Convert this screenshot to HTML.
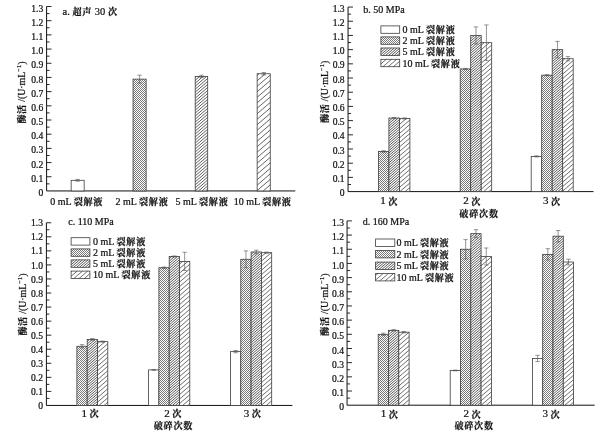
<!DOCTYPE html>
<html lang="zh"><head><meta charset="utf-8"><title>酶活</title>
<style>
html,body{margin:0;padding:0;background:#fff;}
svg{display:block;font-family:"Liberation Serif", "Noto Serif CJK SC", serif;fill:#111;will-change:transform;}
text{stroke:#111;stroke-width:0.22px;}
</style></head><body>
<svg width="609" height="438" viewBox="0 0 609 438">
<defs><pattern id="ck" width="2" height="2" patternUnits="userSpaceOnUse"><rect width="2" height="2" fill="#fff"/><rect width="1" height="1" fill="#787878" shape-rendering="crispEdges"/><rect x="1" y="1" width="1" height="1" fill="#787878" shape-rendering="crispEdges"/></pattern></defs>
<rect width="609" height="438" fill="#fff"/>

<path d="M46.6 6.5V190.95H295.3" fill="none" stroke="#111" stroke-width="1"/>
<path d="M46.6 183.86h3M46.6 176.76h4.9M46.6 169.67h3M46.6 162.57h4.9M46.6 155.48h3M46.6 148.38h4.9M46.6 141.29h3M46.6 134.2h4.9M46.6 127.1h3M46.6 120.01h4.9M46.6 112.91h3M46.6 105.82h4.9M46.6 98.73h3M46.6 91.63h4.9M46.6 84.54h3M46.6 77.44h4.9M46.6 70.35h3M46.6 63.25h4.9M46.6 56.16h3M46.6 49.07h4.9M46.6 41.97h3M46.6 34.88h4.9M46.6 27.78h3M46.6 20.69h4.9M46.6 13.59h3M46.6 6.5h4.9" fill="none" stroke="#111" stroke-width="0.9"/>
<text x="43.2" y="196.06" text-anchor="end" font-size="9.6" stroke-width="0.1">0</text>
<text x="43.2" y="181.87" text-anchor="end" font-size="9.6" stroke-width="0.1">0.1</text>
<text x="43.2" y="167.68" text-anchor="end" font-size="9.6" stroke-width="0.1">0.2</text>
<text x="43.2" y="153.49" text-anchor="end" font-size="9.6" stroke-width="0.1">0.3</text>
<text x="43.2" y="139.31" text-anchor="end" font-size="9.6" stroke-width="0.1">0.4</text>
<text x="43.2" y="125.12" text-anchor="end" font-size="9.6" stroke-width="0.1">0.5</text>
<text x="43.2" y="110.93" text-anchor="end" font-size="9.6" stroke-width="0.1">0.6</text>
<text x="43.2" y="96.74" text-anchor="end" font-size="9.6" stroke-width="0.1">0.7</text>
<text x="43.2" y="82.55" text-anchor="end" font-size="9.6" stroke-width="0.1">0.8</text>
<text x="43.2" y="68.36" text-anchor="end" font-size="9.6" stroke-width="0.1">0.9</text>
<text x="43.2" y="54.18" text-anchor="end" font-size="9.6" stroke-width="0.1">1.0</text>
<text x="43.2" y="39.99" text-anchor="end" font-size="9.6" stroke-width="0.1">1.1</text>
<text x="43.2" y="25.8" text-anchor="end" font-size="9.6" stroke-width="0.1">1.2</text>
<text x="43.2" y="11.61" text-anchor="end" font-size="9.6" stroke-width="0.1">1.3</text>
<text transform="translate(24.9 92.5) rotate(-90)" text-anchor="middle" font-size="9.9"><tspan font-weight="700" font-size="9" letter-spacing="0.6">酶活</tspan> /(U·mL<tspan dy="-3.5" font-size="6.5">−1</tspan><tspan dy="3.5">)</tspan></text>
<text x="62.6" y="14.9" font-size="10.5">a. <tspan font-weight="700" font-size="9.1" letter-spacing="0.75">超声</tspan> 30 <tspan font-weight="700" font-size="9.1" letter-spacing="0.75">次</tspan></text>
<rect x="71.15" y="180.31" width="13" height="10.64" fill="#fff" stroke="none"/>
<rect x="71.15" y="180.31" width="13" height="10.64" fill="none" stroke="#3c3c3c" stroke-width="0.8"/>
<path d="M77.65 179.46V181.16M75.45 179.46h4.4M75.45 181.16h4.4" fill="none" stroke="#555" stroke-width="0.62"/>
<text x="76.7" y="204.5" text-anchor="middle" font-size="10">0 mL <tspan font-weight="700" font-size="9.1" letter-spacing="0.75">裂解液</tspan></text>
<rect x="133.05" y="79.14" width="13.1" height="111.81" fill="#fff" stroke="none"/>
<rect x="133.05" y="79.14" width="13.1" height="111.81" fill="url(#ck)" stroke="none"/>
<rect x="133.05" y="79.14" width="13.1" height="111.81" fill="none" stroke="#3c3c3c" stroke-width="0.8"/>
<path d="M139.6 75.17V83.12M137.4 75.17h4.4M137.4 83.12h4.4" fill="none" stroke="#555" stroke-width="0.62"/>
<text x="142" y="204.5" text-anchor="middle" font-size="10">2 mL <tspan font-weight="700" font-size="9.1" letter-spacing="0.75">裂解液</tspan></text>
<rect x="195.2" y="76.45" width="12.5" height="114.5" fill="#fff" stroke="none"/>
<path d="M195.2 77.23L196.1 76.45M195.2 80.22L199.58 76.45M195.2 83.2L203.05 76.45M195.2 86.19L206.53 76.45M195.2 89.18L207.7 78.43M195.2 92.17L207.7 81.42M195.2 95.16L207.7 84.41M195.2 98.15L207.7 87.4M195.2 101.14L207.7 90.39M195.2 104.13L207.7 93.38M195.2 107.12L207.7 96.37M195.2 110.11L207.7 99.36M195.2 113.09L207.7 102.34M195.2 116.08L207.7 105.33M195.2 119.07L207.7 108.32M195.2 122.06L207.7 111.31M195.2 125.05L207.7 114.3M195.2 128.04L207.7 117.29M195.2 131.03L207.7 120.28M195.2 134.02L207.7 123.27M195.2 137.01L207.7 126.26M195.2 140L207.7 129.25M195.2 142.98L207.7 132.23M195.2 145.97L207.7 135.22M195.2 148.96L207.7 138.21M195.2 151.95L207.7 141.2M195.2 154.94L207.7 144.19M195.2 157.93L207.7 147.18M195.2 160.92L207.7 150.17M195.2 163.91L207.7 153.16M195.2 166.9L207.7 156.15M195.2 169.89L207.7 159.14M195.2 172.87L207.7 162.12M195.2 175.86L207.7 165.11M195.2 178.85L207.7 168.1M195.2 181.84L207.7 171.09M195.2 184.83L207.7 174.08M195.2 187.82L207.7 177.07M195.2 190.81L207.7 180.06M198.51 190.95L207.7 183.05M201.99 190.95L207.7 186.04M205.46 190.95L207.7 189.03" fill="none" stroke="#4c4c4c" stroke-width="0.9"/>
<rect x="195.2" y="76.45" width="12.5" height="114.5" fill="none" stroke="#3c3c3c" stroke-width="0.8"/>
<path d="M201.45 75.31V77.58M199.25 75.31h4.4M199.25 77.58h4.4" fill="none" stroke="#555" stroke-width="0.62"/>
<text x="202" y="204.5" text-anchor="middle" font-size="10">5 mL <tspan font-weight="700" font-size="9.1" letter-spacing="0.75">裂解液</tspan></text>
<rect x="257.15" y="73.75" width="13.1" height="117.2" fill="#fff" stroke="none"/>
<path d="M257.15 75.31L258.96 73.75M257.15 80.8L265.34 73.75M257.15 86.29L270.25 75.03M257.15 91.78L270.25 80.52M257.15 97.27L270.25 86.01M257.15 102.76L270.25 91.5M257.15 108.25L270.25 96.99M257.15 113.74L270.25 102.47M257.15 119.23L270.25 107.97M257.15 124.72L270.25 113.46M257.15 130.21L270.25 118.95M257.15 135.7L270.25 124.44M257.15 141.19L270.25 129.93M257.15 146.68L270.25 135.42M257.15 152.17L270.25 140.91M257.15 157.66L270.25 146.4M257.15 163.15L270.25 151.89M257.15 168.64L270.25 157.38M257.15 174.13L270.25 162.87M257.15 179.62L270.25 168.36M257.15 185.11L270.25 173.84M257.15 190.6L270.25 179.34M263.13 190.95L270.25 184.83M269.51 190.95L270.25 190.32" fill="none" stroke="#555" stroke-width="0.9"/>
<rect x="257.15" y="73.75" width="13.1" height="117.2" fill="none" stroke="#3c3c3c" stroke-width="0.8"/>
<path d="M263.7 72.48V75.03M261.5 72.48h4.4M261.5 75.03h4.4" fill="none" stroke="#555" stroke-width="0.62"/>
<text x="262.7" y="204.5" text-anchor="middle" font-size="10">10 mL <tspan font-weight="700" font-size="9.1" letter-spacing="0.75">裂解液</tspan></text>
<path d="M348.05 7.05V191.6H593.5" fill="none" stroke="#111" stroke-width="1"/>
<path d="M348.05 184.5h3M348.05 177.4h4.9M348.05 170.31h3M348.05 163.21h4.9M348.05 156.11h3M348.05 149.01h4.9M348.05 141.91h3M348.05 134.82h4.9M348.05 127.72h3M348.05 120.62h4.9M348.05 113.52h3M348.05 106.42h4.9M348.05 99.33h3M348.05 92.23h4.9M348.05 85.13h3M348.05 78.03h4.9M348.05 70.93h3M348.05 63.83h4.9M348.05 56.74h3M348.05 49.64h4.9M348.05 42.54h3M348.05 35.44h4.9M348.05 28.34h3M348.05 21.25h4.9M348.05 14.15h3M348.05 7.05h4.9" fill="none" stroke="#111" stroke-width="0.9"/>
<text x="344.65" y="196.21" text-anchor="end" font-size="9.6" stroke-width="0.1">0</text>
<text x="344.65" y="182.01" text-anchor="end" font-size="9.6" stroke-width="0.1">0.1</text>
<text x="344.65" y="167.82" text-anchor="end" font-size="9.6" stroke-width="0.1">0.2</text>
<text x="344.65" y="153.62" text-anchor="end" font-size="9.6" stroke-width="0.1">0.3</text>
<text x="344.65" y="139.43" text-anchor="end" font-size="9.6" stroke-width="0.1">0.4</text>
<text x="344.65" y="125.23" text-anchor="end" font-size="9.6" stroke-width="0.1">0.5</text>
<text x="344.65" y="111.03" text-anchor="end" font-size="9.6" stroke-width="0.1">0.6</text>
<text x="344.65" y="96.84" text-anchor="end" font-size="9.6" stroke-width="0.1">0.7</text>
<text x="344.65" y="82.64" text-anchor="end" font-size="9.6" stroke-width="0.1">0.8</text>
<text x="344.65" y="68.44" text-anchor="end" font-size="9.6" stroke-width="0.1">0.9</text>
<text x="344.65" y="54.25" text-anchor="end" font-size="9.6" stroke-width="0.1">1.0</text>
<text x="344.65" y="40.05" text-anchor="end" font-size="9.6" stroke-width="0.1">1.1</text>
<text x="344.65" y="25.86" text-anchor="end" font-size="9.6" stroke-width="0.1">1.2</text>
<text x="344.65" y="11.66" text-anchor="end" font-size="9.6" stroke-width="0.1">1.3</text>
<rect x="378.4" y="151.42" width="10.5" height="40.18" fill="#fff" stroke="none"/>
<rect x="378.4" y="151.42" width="10.5" height="40.18" fill="url(#ck)" stroke="none"/>
<rect x="378.4" y="151.42" width="10.5" height="40.18" fill="none" stroke="#3c3c3c" stroke-width="0.8"/>
<rect x="388.9" y="118.06" width="10.5" height="73.54" fill="#fff" stroke="none"/>
<path d="M388.9 118.8L389.75 118.06M388.9 121.25L392.6 118.06M388.9 123.7L395.45 118.06M388.9 126.15L398.3 118.06M388.9 128.6L399.4 119.57M388.9 131.05L399.4 122.02M388.9 133.5L399.4 124.47M388.9 135.95L399.4 126.92M388.9 138.4L399.4 129.37M388.9 140.85L399.4 131.82M388.9 143.3L399.4 134.27M388.9 145.75L399.4 136.72M388.9 148.2L399.4 139.17M388.9 150.65L399.4 141.62M388.9 153.1L399.4 144.07M388.9 155.55L399.4 146.52M388.9 158L399.4 148.97M388.9 160.45L399.4 151.42M388.9 162.9L399.4 153.87M388.9 165.35L399.4 156.32M388.9 167.8L399.4 158.77M388.9 170.25L399.4 161.22M388.9 172.7L399.4 163.67M388.9 175.15L399.4 166.12M388.9 177.6L399.4 168.57M388.9 180.05L399.4 171.02M388.9 182.5L399.4 173.47M388.9 184.95L399.4 175.92M388.9 187.4L399.4 178.37M388.9 189.85L399.4 180.82M389.71 191.6L399.4 183.27M392.56 191.6L399.4 185.72M395.41 191.6L399.4 188.17M398.26 191.6L399.4 190.62" fill="none" stroke="#4c4c4c" stroke-width="0.92"/>
<rect x="388.9" y="118.06" width="10.5" height="73.54" fill="none" stroke="#3c3c3c" stroke-width="0.8"/>
<rect x="399.4" y="118.49" width="10.5" height="73.11" fill="#fff" stroke="none"/>
<path d="M399.4 120.02L401.17 118.49M399.4 124.52L406.41 118.49M399.4 129.02L409.9 119.99M399.4 133.52L409.9 124.49M399.4 138.02L409.9 128.99M399.4 142.52L409.9 133.49M399.4 147.02L409.9 137.99M399.4 151.52L409.9 142.49M399.4 156.02L409.9 146.99M399.4 160.52L409.9 151.49M399.4 165.02L409.9 155.99M399.4 169.52L409.9 160.49M399.4 174.02L409.9 164.99M399.4 178.52L409.9 169.49M399.4 183.02L409.9 173.99M399.4 187.52L409.9 178.49M399.88 191.6L409.9 182.99M405.12 191.6L409.9 187.49" fill="none" stroke="#555" stroke-width="0.85"/>
<rect x="399.4" y="118.49" width="10.5" height="73.11" fill="none" stroke="#3c3c3c" stroke-width="0.8"/>
<path d="M383.65 150.72V152.13M381.45 150.72h4.4M381.45 152.13h4.4" fill="none" stroke="#555" stroke-width="0.62"/>
<path d="M394.15 117.5V118.63M391.95 117.5h4.4M391.95 118.63h4.4" fill="none" stroke="#555" stroke-width="0.62"/>
<path d="M404.65 117.92V119.06M402.45 117.92h4.4M402.45 119.06h4.4" fill="none" stroke="#555" stroke-width="0.62"/>
<rect x="460.2" y="68.95" width="10.5" height="122.65" fill="#fff" stroke="none"/>
<rect x="460.2" y="68.95" width="10.5" height="122.65" fill="url(#ck)" stroke="none"/>
<rect x="460.2" y="68.95" width="10.5" height="122.65" fill="none" stroke="#3c3c3c" stroke-width="0.8"/>
<rect x="470.7" y="35.44" width="10.5" height="156.16" fill="#fff" stroke="none"/>
<path d="M470.7 36.2L471.58 35.44M470.7 38.65L474.43 35.44M470.7 41.1L477.28 35.44M470.7 43.55L480.13 35.44M470.7 46L481.2 36.97M470.7 48.45L481.2 39.42M470.7 50.9L481.2 41.87M470.7 53.35L481.2 44.32M470.7 55.8L481.2 46.77M470.7 58.25L481.2 49.22M470.7 60.7L481.2 51.67M470.7 63.15L481.2 54.12M470.7 65.6L481.2 56.57M470.7 68.05L481.2 59.02M470.7 70.5L481.2 61.47M470.7 72.95L481.2 63.92M470.7 75.4L481.2 66.37M470.7 77.85L481.2 68.82M470.7 80.3L481.2 71.27M470.7 82.75L481.2 73.72M470.7 85.2L481.2 76.17M470.7 87.65L481.2 78.62M470.7 90.1L481.2 81.07M470.7 92.55L481.2 83.52M470.7 95L481.2 85.97M470.7 97.45L481.2 88.42M470.7 99.9L481.2 90.87M470.7 102.35L481.2 93.32M470.7 104.8L481.2 95.77M470.7 107.25L481.2 98.22M470.7 109.7L481.2 100.67M470.7 112.15L481.2 103.12M470.7 114.6L481.2 105.57M470.7 117.05L481.2 108.02M470.7 119.5L481.2 110.47M470.7 121.95L481.2 112.92M470.7 124.4L481.2 115.37M470.7 126.85L481.2 117.82M470.7 129.3L481.2 120.27M470.7 131.75L481.2 122.72M470.7 134.2L481.2 125.17M470.7 136.65L481.2 127.62M470.7 139.1L481.2 130.07M470.7 141.55L481.2 132.52M470.7 144L481.2 134.97M470.7 146.45L481.2 137.42M470.7 148.9L481.2 139.87M470.7 151.35L481.2 142.32M470.7 153.8L481.2 144.77M470.7 156.25L481.2 147.22M470.7 158.7L481.2 149.67M470.7 161.15L481.2 152.12M470.7 163.6L481.2 154.57M470.7 166.05L481.2 157.02M470.7 168.5L481.2 159.47M470.7 170.95L481.2 161.92M470.7 173.4L481.2 164.37M470.7 175.85L481.2 166.82M470.7 178.3L481.2 169.27M470.7 180.75L481.2 171.72M470.7 183.2L481.2 174.17M470.7 185.65L481.2 176.62M470.7 188.1L481.2 179.07M470.7 190.55L481.2 181.52M472.33 191.6L481.2 183.97M475.17 191.6L481.2 186.42M478.02 191.6L481.2 188.87M480.87 191.6L481.2 191.32" fill="none" stroke="#4c4c4c" stroke-width="0.92"/>
<rect x="470.7" y="35.44" width="10.5" height="156.16" fill="none" stroke="#3c3c3c" stroke-width="0.8"/>
<rect x="481.2" y="42.68" width="10.5" height="148.92" fill="#fff" stroke="none"/>
<path d="M481.2 45.17L484.09 42.68M481.2 49.67L489.32 42.68M481.2 54.17L491.7 45.14M481.2 58.67L491.7 49.64M481.2 63.17L491.7 54.14M481.2 67.67L491.7 58.64M481.2 72.17L491.7 63.14M481.2 76.67L491.7 67.64M481.2 81.17L491.7 72.14M481.2 85.67L491.7 76.64M481.2 90.17L491.7 81.14M481.2 94.67L491.7 85.64M481.2 99.17L491.7 90.14M481.2 103.67L491.7 94.64M481.2 108.17L491.7 99.14M481.2 112.67L491.7 103.64M481.2 117.17L491.7 108.14M481.2 121.67L491.7 112.64M481.2 126.17L491.7 117.14M481.2 130.67L491.7 121.64M481.2 135.17L491.7 126.14M481.2 139.67L491.7 130.64M481.2 144.17L491.7 135.14M481.2 148.67L491.7 139.64M481.2 153.17L491.7 144.14M481.2 157.67L491.7 148.64M481.2 162.17L491.7 153.14M481.2 166.67L491.7 157.64M481.2 171.17L491.7 162.14M481.2 175.67L491.7 166.64M481.2 180.17L491.7 171.14M481.2 184.67L491.7 175.64M481.2 189.17L491.7 180.14M483.6 191.6L491.7 184.64M488.84 191.6L491.7 189.14" fill="none" stroke="#555" stroke-width="0.85"/>
<rect x="481.2" y="42.68" width="10.5" height="148.92" fill="none" stroke="#3c3c3c" stroke-width="0.8"/>
<path d="M465.45 68.38V69.51M463.25 68.38h4.4M463.25 69.51h4.4" fill="none" stroke="#555" stroke-width="0.62"/>
<path d="M475.95 26.92V43.96M473.75 26.92h4.4M473.75 43.96h4.4" fill="none" stroke="#555" stroke-width="0.62"/>
<path d="M486.45 24.94V60.43M484.25 24.94h4.4M484.25 60.43h4.4" fill="none" stroke="#555" stroke-width="0.62"/>
<rect x="531.2" y="156.39" width="10.5" height="35.21" fill="#fff" stroke="none"/>
<rect x="531.2" y="156.39" width="10.5" height="35.21" fill="none" stroke="#3c3c3c" stroke-width="0.8"/>
<rect x="541.7" y="75.19" width="10.5" height="116.41" fill="#fff" stroke="none"/>
<rect x="541.7" y="75.19" width="10.5" height="116.41" fill="url(#ck)" stroke="none"/>
<rect x="541.7" y="75.19" width="10.5" height="116.41" fill="none" stroke="#3c3c3c" stroke-width="0.8"/>
<rect x="552.2" y="49.64" width="10.5" height="141.96" fill="#fff" stroke="none"/>
<path d="M552.2 51.86L554.78 49.64M552.2 54.31L557.63 49.64M552.2 56.76L560.48 49.64M552.2 59.21L562.7 50.18M552.2 61.66L562.7 52.63M552.2 64.11L562.7 55.08M552.2 66.56L562.7 57.53M552.2 69.01L562.7 59.98M552.2 71.46L562.7 62.43M552.2 73.91L562.7 64.88M552.2 76.36L562.7 67.33M552.2 78.81L562.7 69.78M552.2 81.26L562.7 72.23M552.2 83.71L562.7 74.68M552.2 86.16L562.7 77.13M552.2 88.61L562.7 79.58M552.2 91.06L562.7 82.03M552.2 93.51L562.7 84.48M552.2 95.96L562.7 86.93M552.2 98.41L562.7 89.38M552.2 100.86L562.7 91.83M552.2 103.31L562.7 94.28M552.2 105.76L562.7 96.73M552.2 108.21L562.7 99.18M552.2 110.66L562.7 101.63M552.2 113.11L562.7 104.08M552.2 115.56L562.7 106.53M552.2 118.01L562.7 108.98M552.2 120.46L562.7 111.43M552.2 122.91L562.7 113.88M552.2 125.36L562.7 116.33M552.2 127.81L562.7 118.78M552.2 130.26L562.7 121.23M552.2 132.71L562.7 123.68M552.2 135.16L562.7 126.13M552.2 137.61L562.7 128.58M552.2 140.06L562.7 131.03M552.2 142.51L562.7 133.48M552.2 144.96L562.7 135.93M552.2 147.41L562.7 138.38M552.2 149.86L562.7 140.83M552.2 152.31L562.7 143.28M552.2 154.76L562.7 145.73M552.2 157.21L562.7 148.18M552.2 159.66L562.7 150.63M552.2 162.11L562.7 153.08M552.2 164.56L562.7 155.53M552.2 167.01L562.7 157.98M552.2 169.46L562.7 160.43M552.2 171.91L562.7 162.88M552.2 174.36L562.7 165.33M552.2 176.81L562.7 167.78M552.2 179.26L562.7 170.23M552.2 181.71L562.7 172.68M552.2 184.16L562.7 175.13M552.2 186.61L562.7 177.58M552.2 189.06L562.7 180.03M552.2 191.51L562.7 182.48M554.94 191.6L562.7 184.93M557.79 191.6L562.7 187.38M560.64 191.6L562.7 189.83" fill="none" stroke="#4c4c4c" stroke-width="0.92"/>
<rect x="552.2" y="49.64" width="10.5" height="141.96" fill="none" stroke="#3c3c3c" stroke-width="0.8"/>
<rect x="562.7" y="58.72" width="10.5" height="132.88" fill="#fff" stroke="none"/>
<path d="M562.7 60.58L564.86 58.72M562.7 65.08L570.09 58.72M562.7 69.58L573.2 60.55M562.7 74.08L573.2 65.05M562.7 78.58L573.2 69.55M562.7 83.08L573.2 74.05M562.7 87.58L573.2 78.55M562.7 92.08L573.2 83.05M562.7 96.58L573.2 87.55M562.7 101.08L573.2 92.05M562.7 105.58L573.2 96.55M562.7 110.08L573.2 101.05M562.7 114.58L573.2 105.55M562.7 119.08L573.2 110.05M562.7 123.58L573.2 114.55M562.7 128.08L573.2 119.05M562.7 132.58L573.2 123.55M562.7 137.08L573.2 128.05M562.7 141.58L573.2 132.55M562.7 146.08L573.2 137.05M562.7 150.58L573.2 141.55M562.7 155.08L573.2 146.05M562.7 159.58L573.2 150.55M562.7 164.08L573.2 155.05M562.7 168.58L573.2 159.55M562.7 173.08L573.2 164.05M562.7 177.58L573.2 168.55M562.7 182.08L573.2 173.05M562.7 186.58L573.2 177.55M562.7 191.08L573.2 182.05M567.33 191.6L573.2 186.55M572.56 191.6L573.2 191.05" fill="none" stroke="#555" stroke-width="0.85"/>
<rect x="562.7" y="58.72" width="10.5" height="132.88" fill="none" stroke="#3c3c3c" stroke-width="0.8"/>
<path d="M536.45 155.83V156.96M534.25 155.83h4.4M534.25 156.96h4.4" fill="none" stroke="#555" stroke-width="0.62"/>
<path d="M546.95 74.62V75.76M544.75 74.62h4.4M544.75 75.76h4.4" fill="none" stroke="#555" stroke-width="0.62"/>
<path d="M557.45 41.4V57.87M555.25 41.4h4.4M555.25 57.87h4.4" fill="none" stroke="#555" stroke-width="0.62"/>
<path d="M567.95 56.59V60.85M565.75 56.59h4.4M565.75 60.85h4.4" fill="none" stroke="#555" stroke-width="0.62"/>
<text transform="translate(327.5 91.8) rotate(-90)" text-anchor="middle" font-size="9.9"><tspan font-weight="700" font-size="9" letter-spacing="0.6">酶活</tspan> /(U·mL<tspan dy="-3.5" font-size="6.5">−1</tspan><tspan dy="3.5">)</tspan></text>
<text x="363.3" y="12.9" font-size="10">b. 50 MPa</text>
<rect x="380.9" y="25.9" width="18.8" height="7.4" fill="#fff" stroke="none"/>
<rect x="380.9" y="25.9" width="18.8" height="7.4" fill="none" stroke="#3c3c3c" stroke-width="0.8"/>
<text x="402.5" y="33.1" font-size="10">0 mL <tspan font-weight="700" font-size="9.1" letter-spacing="0.75">裂解液</tspan></text>
<rect x="380.9" y="36.9" width="18.8" height="7.4" fill="#fff" stroke="none"/>
<rect x="380.9" y="36.9" width="18.8" height="7.4" fill="url(#ck)" stroke="none"/>
<rect x="380.9" y="36.9" width="18.8" height="7.4" fill="none" stroke="#3c3c3c" stroke-width="0.8"/>
<text x="402.5" y="44.1" font-size="10">2 mL <tspan font-weight="700" font-size="9.1" letter-spacing="0.75">裂解液</tspan></text>
<rect x="380.9" y="48" width="18.8" height="7.4" fill="#fff" stroke="none"/>
<path d="M380.9 49.73L382.91 48M380.9 52.18L385.76 48M380.9 54.63L388.6 48M382.85 55.4L391.45 48M385.7 55.4L394.3 48M388.55 55.4L397.15 48M391.4 55.4L399.7 48.26M394.24 55.4L399.7 50.71M397.09 55.4L399.7 53.16" fill="none" stroke="#4c4c4c" stroke-width="0.92"/>
<rect x="380.9" y="48" width="18.8" height="7.4" fill="none" stroke="#3c3c3c" stroke-width="0.8"/>
<text x="402.5" y="55.2" font-size="10">5 mL <tspan font-weight="700" font-size="9.1" letter-spacing="0.75">裂解液</tspan></text>
<rect x="380.9" y="59.3" width="18.8" height="7.4" fill="#fff" stroke="none"/>
<path d="M380.9 59.43L381.05 59.3M380.9 63.93L386.28 59.3M382.91 66.7L391.51 59.3M388.14 66.7L396.74 59.3M393.37 66.7L399.7 61.26M398.6 66.7L399.7 65.76" fill="none" stroke="#555" stroke-width="0.85"/>
<rect x="380.9" y="59.3" width="18.8" height="7.4" fill="none" stroke="#3c3c3c" stroke-width="0.8"/>
<text x="402.5" y="66.5" font-size="10">10 mL <tspan font-weight="700" font-size="9.1" letter-spacing="0.75">裂解液</tspan></text>
<text x="389.15" y="204.2" text-anchor="middle" font-size="10"><tspan font-size="11">1</tspan> <tspan font-weight="700" font-size="9.1" letter-spacing="0.75" dy="0.35">次</tspan></text>
<text x="472.1" y="204.2" text-anchor="middle" font-size="10"><tspan font-size="11">2</tspan> <tspan font-weight="700" font-size="9.1" letter-spacing="0.75" dy="0.35">次</tspan></text>
<text x="551.9" y="204.2" text-anchor="middle" font-size="10"><tspan font-size="11">3</tspan> <tspan font-weight="700" font-size="9.1" letter-spacing="0.75" dy="0.35">次</tspan></text>
<text x="479.05" y="216.95" text-anchor="middle" font-size="9.1" font-weight="700" letter-spacing="0.75">破碎次数</text>
<path d="M46.4 222.75V405.45H292.4" fill="none" stroke="#111" stroke-width="1"/>
<path d="M46.4 398.42h3M46.4 391.4h4.9M46.4 384.37h3M46.4 377.34h4.9M46.4 370.32h3M46.4 363.29h4.9M46.4 356.26h3M46.4 349.23h4.9M46.4 342.21h3M46.4 335.18h4.9M46.4 328.15h3M46.4 321.13h4.9M46.4 314.1h3M46.4 307.07h4.9M46.4 300.05h3M46.4 293.02h4.9M46.4 285.99h3M46.4 278.97h4.9M46.4 271.94h3M46.4 264.91h4.9M46.4 257.88h3M46.4 250.86h4.9M46.4 243.83h3M46.4 236.8h4.9M46.4 229.78h3M46.4 222.75h4.9" fill="none" stroke="#111" stroke-width="0.9"/>
<text x="43" y="409.06" text-anchor="end" font-size="9.6" stroke-width="0.1">0</text>
<text x="43" y="395.01" text-anchor="end" font-size="9.6" stroke-width="0.1">0.1</text>
<text x="43" y="380.95" text-anchor="end" font-size="9.6" stroke-width="0.1">0.2</text>
<text x="43" y="366.9" text-anchor="end" font-size="9.6" stroke-width="0.1">0.3</text>
<text x="43" y="352.84" text-anchor="end" font-size="9.6" stroke-width="0.1">0.4</text>
<text x="43" y="338.79" text-anchor="end" font-size="9.6" stroke-width="0.1">0.5</text>
<text x="43" y="324.74" text-anchor="end" font-size="9.6" stroke-width="0.1">0.6</text>
<text x="43" y="310.68" text-anchor="end" font-size="9.6" stroke-width="0.1">0.7</text>
<text x="43" y="296.63" text-anchor="end" font-size="9.6" stroke-width="0.1">0.8</text>
<text x="43" y="282.58" text-anchor="end" font-size="9.6" stroke-width="0.1">0.9</text>
<text x="43" y="268.52" text-anchor="end" font-size="9.6" stroke-width="0.1">1.0</text>
<text x="43" y="254.47" text-anchor="end" font-size="9.6" stroke-width="0.1">1.1</text>
<text x="43" y="240.41" text-anchor="end" font-size="9.6" stroke-width="0.1">1.2</text>
<text x="43" y="226.36" text-anchor="end" font-size="9.6" stroke-width="0.1">1.3</text>
<rect x="76.9" y="346.28" width="10.3" height="59.17" fill="#fff" stroke="none"/>
<rect x="76.9" y="346.28" width="10.3" height="59.17" fill="url(#ck)" stroke="none"/>
<rect x="76.9" y="346.28" width="10.3" height="59.17" fill="none" stroke="#3c3c3c" stroke-width="0.8"/>
<rect x="87.2" y="339.4" width="10.3" height="66.05" fill="#fff" stroke="none"/>
<path d="M87.2 341.51L89.65 339.4M87.2 343.96L92.5 339.4M87.2 346.41L95.35 339.4M87.2 348.86L97.5 340M87.2 351.31L97.5 342.45M87.2 353.76L97.5 344.9M87.2 356.21L97.5 347.35M87.2 358.66L97.5 349.8M87.2 361.11L97.5 352.25M87.2 363.56L97.5 354.7M87.2 366.01L97.5 357.15M87.2 368.46L97.5 359.6M87.2 370.91L97.5 362.05M87.2 373.36L97.5 364.5M87.2 375.81L97.5 366.95M87.2 378.26L97.5 369.4M87.2 380.71L97.5 371.85M87.2 383.16L97.5 374.3M87.2 385.61L97.5 376.75M87.2 388.06L97.5 379.2M87.2 390.51L97.5 381.65M87.2 392.96L97.5 384.1M87.2 395.41L97.5 386.55M87.2 397.86L97.5 389M87.2 400.31L97.5 391.45M87.2 402.76L97.5 393.9M87.2 405.21L97.5 396.35M89.77 405.45L97.5 398.8M92.62 405.45L97.5 401.25M95.47 405.45L97.5 403.7" fill="none" stroke="#4c4c4c" stroke-width="0.92"/>
<rect x="87.2" y="339.4" width="10.3" height="66.05" fill="none" stroke="#3c3c3c" stroke-width="0.8"/>
<rect x="97.5" y="341.65" width="10.3" height="63.8" fill="#fff" stroke="none"/>
<path d="M97.5 343.65L99.83 341.65M97.5 348.15L105.06 341.65M97.5 352.65L107.8 343.79M97.5 357.15L107.8 348.29M97.5 361.65L107.8 352.79M97.5 366.15L107.8 357.29M97.5 370.65L107.8 361.79M97.5 375.15L107.8 366.29M97.5 379.65L107.8 370.79M97.5 384.15L107.8 375.29M97.5 388.65L107.8 379.79M97.5 393.15L107.8 384.29M97.5 397.65L107.8 388.79M97.5 402.15L107.8 393.29M98.9 405.45L107.8 397.79M104.13 405.45L107.8 402.29" fill="none" stroke="#555" stroke-width="0.85"/>
<rect x="97.5" y="341.65" width="10.3" height="63.8" fill="none" stroke="#3c3c3c" stroke-width="0.8"/>
<path d="M82.05 344.6V347.97M79.85 344.6h4.4M79.85 347.97h4.4" fill="none" stroke="#555" stroke-width="0.62"/>
<path d="M92.35 338.55V340.24M90.15 338.55h4.4M90.15 340.24h4.4" fill="none" stroke="#555" stroke-width="0.62"/>
<path d="M102.65 341.08V342.21M100.45 341.08h4.4M100.45 342.21h4.4" fill="none" stroke="#555" stroke-width="0.62"/>
<rect x="148.6" y="369.89" width="10.3" height="35.56" fill="#fff" stroke="none"/>
<rect x="148.6" y="369.89" width="10.3" height="35.56" fill="none" stroke="#3c3c3c" stroke-width="0.8"/>
<rect x="158.9" y="267.72" width="10.3" height="137.73" fill="#fff" stroke="none"/>
<rect x="158.9" y="267.72" width="10.3" height="137.73" fill="url(#ck)" stroke="none"/>
<rect x="158.9" y="267.72" width="10.3" height="137.73" fill="none" stroke="#3c3c3c" stroke-width="0.8"/>
<rect x="169.2" y="256.48" width="10.3" height="148.97" fill="#fff" stroke="none"/>
<path d="M169.2 258.74L171.83 256.48M169.2 261.19L174.68 256.48M169.2 263.64L177.52 256.48M169.2 266.09L179.5 257.23M169.2 268.54L179.5 259.68M169.2 270.99L179.5 262.13M169.2 273.44L179.5 264.58M169.2 275.89L179.5 267.03M169.2 278.34L179.5 269.48M169.2 280.79L179.5 271.93M169.2 283.24L179.5 274.38M169.2 285.69L179.5 276.83M169.2 288.14L179.5 279.28M169.2 290.59L179.5 281.73M169.2 293.04L179.5 284.18M169.2 295.49L179.5 286.63M169.2 297.94L179.5 289.08M169.2 300.39L179.5 291.53M169.2 302.84L179.5 293.98M169.2 305.29L179.5 296.43M169.2 307.74L179.5 298.88M169.2 310.19L179.5 301.33M169.2 312.64L179.5 303.78M169.2 315.09L179.5 306.23M169.2 317.54L179.5 308.68M169.2 319.99L179.5 311.13M169.2 322.44L179.5 313.58M169.2 324.89L179.5 316.03M169.2 327.34L179.5 318.48M169.2 329.79L179.5 320.93M169.2 332.24L179.5 323.38M169.2 334.69L179.5 325.83M169.2 337.14L179.5 328.28M169.2 339.59L179.5 330.73M169.2 342.04L179.5 333.18M169.2 344.49L179.5 335.63M169.2 346.94L179.5 338.08M169.2 349.39L179.5 340.53M169.2 351.84L179.5 342.98M169.2 354.29L179.5 345.43M169.2 356.74L179.5 347.88M169.2 359.19L179.5 350.33M169.2 361.64L179.5 352.78M169.2 364.09L179.5 355.23M169.2 366.54L179.5 357.68M169.2 368.99L179.5 360.13M169.2 371.44L179.5 362.58M169.2 373.89L179.5 365.03M169.2 376.34L179.5 367.48M169.2 378.79L179.5 369.93M169.2 381.24L179.5 372.38M169.2 383.69L179.5 374.83M169.2 386.14L179.5 377.28M169.2 388.59L179.5 379.73M169.2 391.04L179.5 382.18M169.2 393.49L179.5 384.63M169.2 395.94L179.5 387.08M169.2 398.39L179.5 389.53M169.2 400.84L179.5 391.98M169.2 403.29L179.5 394.43M169.53 405.45L179.5 396.88M172.38 405.45L179.5 399.33M175.23 405.45L179.5 401.78M178.08 405.45L179.5 404.23" fill="none" stroke="#4c4c4c" stroke-width="0.92"/>
<rect x="169.2" y="256.48" width="10.3" height="148.97" fill="none" stroke="#3c3c3c" stroke-width="0.8"/>
<rect x="179.5" y="261.4" width="10.3" height="144.05" fill="#fff" stroke="none"/>
<path d="M179.5 264.13L182.68 261.4M179.5 268.63L187.91 261.4M179.5 273.13L189.8 264.27M179.5 277.63L189.8 268.77M179.5 282.13L189.8 273.27M179.5 286.63L189.8 277.77M179.5 291.13L189.8 282.27M179.5 295.63L189.8 286.77M179.5 300.13L189.8 291.27M179.5 304.63L189.8 295.77M179.5 309.13L189.8 300.27M179.5 313.63L189.8 304.77M179.5 318.13L189.8 309.27M179.5 322.63L189.8 313.77M179.5 327.13L189.8 318.27M179.5 331.63L189.8 322.77M179.5 336.13L189.8 327.27M179.5 340.63L189.8 331.77M179.5 345.13L189.8 336.27M179.5 349.63L189.8 340.77M179.5 354.13L189.8 345.27M179.5 358.63L189.8 349.77M179.5 363.13L189.8 354.27M179.5 367.63L189.8 358.77M179.5 372.13L189.8 363.27M179.5 376.63L189.8 367.77M179.5 381.13L189.8 372.27M179.5 385.63L189.8 376.77M179.5 390.13L189.8 381.27M179.5 394.63L189.8 385.77M179.5 399.13L189.8 390.27M179.5 403.63L189.8 394.77M182.62 405.45L189.8 399.27M187.85 405.45L189.8 403.77" fill="none" stroke="#555" stroke-width="0.85"/>
<rect x="179.5" y="261.4" width="10.3" height="144.05" fill="none" stroke="#3c3c3c" stroke-width="0.8"/>
<path d="M153.75 369.47V370.32M151.55 369.47h4.4M151.55 370.32h4.4" fill="none" stroke="#555" stroke-width="0.62"/>
<path d="M164.05 267.02V268.43M161.85 267.02h4.4M161.85 268.43h4.4" fill="none" stroke="#555" stroke-width="0.62"/>
<path d="M174.35 255.92V257.04M172.15 255.92h4.4M172.15 257.04h4.4" fill="none" stroke="#555" stroke-width="0.62"/>
<path d="M184.65 252.26V270.53M182.45 252.26h4.4M182.45 270.53h4.4" fill="none" stroke="#555" stroke-width="0.62"/>
<rect x="230.5" y="351.62" width="10.3" height="53.83" fill="#fff" stroke="none"/>
<rect x="230.5" y="351.62" width="10.3" height="53.83" fill="none" stroke="#3c3c3c" stroke-width="0.8"/>
<rect x="240.8" y="259.29" width="10.3" height="146.16" fill="#fff" stroke="none"/>
<rect x="240.8" y="259.29" width="10.3" height="146.16" fill="url(#ck)" stroke="none"/>
<rect x="240.8" y="259.29" width="10.3" height="146.16" fill="none" stroke="#3c3c3c" stroke-width="0.8"/>
<rect x="251.1" y="251.98" width="10.3" height="153.47" fill="#fff" stroke="none"/>
<path d="M251.1 254.45L253.97 251.98M251.1 256.9L256.82 251.98M251.1 259.35L259.67 251.98M251.1 261.8L261.4 252.95M251.1 264.25L261.4 255.4M251.1 266.7L261.4 257.85M251.1 269.15L261.4 260.3M251.1 271.6L261.4 262.75M251.1 274.05L261.4 265.2M251.1 276.5L261.4 267.65M251.1 278.95L261.4 270.1M251.1 281.4L261.4 272.55M251.1 283.85L261.4 275M251.1 286.3L261.4 277.45M251.1 288.75L261.4 279.9M251.1 291.2L261.4 282.35M251.1 293.65L261.4 284.8M251.1 296.1L261.4 287.25M251.1 298.55L261.4 289.7M251.1 301L261.4 292.15M251.1 303.45L261.4 294.6M251.1 305.9L261.4 297.05M251.1 308.35L261.4 299.5M251.1 310.8L261.4 301.95M251.1 313.25L261.4 304.4M251.1 315.7L261.4 306.85M251.1 318.15L261.4 309.3M251.1 320.6L261.4 311.75M251.1 323.05L261.4 314.2M251.1 325.5L261.4 316.65M251.1 327.95L261.4 319.1M251.1 330.4L261.4 321.55M251.1 332.85L261.4 324M251.1 335.3L261.4 326.45M251.1 337.75L261.4 328.9M251.1 340.2L261.4 331.35M251.1 342.65L261.4 333.8M251.1 345.1L261.4 336.25M251.1 347.55L261.4 338.7M251.1 350L261.4 341.15M251.1 352.45L261.4 343.6M251.1 354.9L261.4 346.05M251.1 357.35L261.4 348.5M251.1 359.8L261.4 350.95M251.1 362.25L261.4 353.4M251.1 364.7L261.4 355.85M251.1 367.15L261.4 358.3M251.1 369.6L261.4 360.75M251.1 372.05L261.4 363.2M251.1 374.5L261.4 365.65M251.1 376.95L261.4 368.1M251.1 379.4L261.4 370.55M251.1 381.85L261.4 373M251.1 384.3L261.4 375.45M251.1 386.75L261.4 377.9M251.1 389.2L261.4 380.35M251.1 391.65L261.4 382.8M251.1 394.1L261.4 385.25M251.1 396.55L261.4 387.7M251.1 399L261.4 390.15M251.1 401.45L261.4 392.6M251.1 403.9L261.4 395.05M252.15 405.45L261.4 397.5M255 405.45L261.4 399.95M257.85 405.45L261.4 402.4M260.7 405.45L261.4 404.85" fill="none" stroke="#4c4c4c" stroke-width="0.92"/>
<rect x="251.1" y="251.98" width="10.3" height="153.47" fill="none" stroke="#3c3c3c" stroke-width="0.8"/>
<rect x="261.4" y="252.68" width="10.3" height="152.77" fill="#fff" stroke="none"/>
<path d="M261.4 256.7L266.06 252.68M261.4 261.2L271.3 252.68M261.4 265.7L271.7 256.84M261.4 270.2L271.7 261.34M261.4 274.7L271.7 265.84M261.4 279.2L271.7 270.34M261.4 283.7L271.7 274.84M261.4 288.2L271.7 279.34M261.4 292.7L271.7 283.84M261.4 297.2L271.7 288.34M261.4 301.7L271.7 292.84M261.4 306.2L271.7 297.34M261.4 310.7L271.7 301.84M261.4 315.2L271.7 306.34M261.4 319.7L271.7 310.84M261.4 324.2L271.7 315.34M261.4 328.7L271.7 319.84M261.4 333.2L271.7 324.34M261.4 337.7L271.7 328.84M261.4 342.2L271.7 333.34M261.4 346.7L271.7 337.84M261.4 351.2L271.7 342.34M261.4 355.7L271.7 346.84M261.4 360.2L271.7 351.34M261.4 364.7L271.7 355.84M261.4 369.2L271.7 360.34M261.4 373.7L271.7 364.84M261.4 378.2L271.7 369.34M261.4 382.7L271.7 373.84M261.4 387.2L271.7 378.34M261.4 391.7L271.7 382.84M261.4 396.2L271.7 387.34M261.4 400.7L271.7 391.84M261.4 405.2L271.7 396.34M266.34 405.45L271.7 400.84M271.57 405.45L271.7 405.34" fill="none" stroke="#555" stroke-width="0.85"/>
<rect x="261.4" y="252.68" width="10.3" height="152.77" fill="none" stroke="#3c3c3c" stroke-width="0.8"/>
<path d="M235.65 350.5V352.75M233.45 350.5h4.4M233.45 352.75h4.4" fill="none" stroke="#555" stroke-width="0.62"/>
<path d="M245.95 250.86V267.72M243.75 250.86h4.4M243.75 267.72h4.4" fill="none" stroke="#555" stroke-width="0.62"/>
<path d="M256.25 250.16V253.81M254.05 250.16h4.4M254.05 253.81h4.4" fill="none" stroke="#555" stroke-width="0.62"/>
<path d="M266.55 252.12V253.25M264.35 252.12h4.4M264.35 253.25h4.4" fill="none" stroke="#555" stroke-width="0.62"/>
<text transform="translate(25.9 304.5) rotate(-90)" text-anchor="middle" font-size="9.9"><tspan font-weight="700" font-size="9" letter-spacing="0.6">酶活</tspan> /(U·mL<tspan dy="-3.5" font-size="6.5">−1</tspan><tspan dy="3.5">)</tspan></text>
<text x="68.3" y="225.4" font-size="10">c. 110 MPa</text>
<rect x="71.1" y="237.7" width="18.8" height="7.4" fill="#fff" stroke="none"/>
<rect x="71.1" y="237.7" width="18.8" height="7.4" fill="none" stroke="#3c3c3c" stroke-width="0.8"/>
<text x="93" y="244.9" font-size="10">0 mL <tspan font-weight="700" font-size="9.1" letter-spacing="0.75">裂解液</tspan></text>
<rect x="71.1" y="248.9" width="18.8" height="7.4" fill="#fff" stroke="none"/>
<rect x="71.1" y="248.9" width="18.8" height="7.4" fill="url(#ck)" stroke="none"/>
<rect x="71.1" y="248.9" width="18.8" height="7.4" fill="none" stroke="#3c3c3c" stroke-width="0.8"/>
<text x="93" y="256.1" font-size="10">2 mL <tspan font-weight="700" font-size="9.1" letter-spacing="0.75">裂解液</tspan></text>
<rect x="71.1" y="259.9" width="18.8" height="7.4" fill="#fff" stroke="none"/>
<path d="M71.1 262.25L73.84 259.9M71.1 264.7L76.69 259.9M71.1 267.15L79.53 259.9M73.78 267.3L82.38 259.9M76.63 267.3L85.23 259.9M79.48 267.3L88.08 259.9M82.33 267.3L89.9 260.79M85.17 267.3L89.9 263.24M88.02 267.3L89.9 265.69" fill="none" stroke="#4c4c4c" stroke-width="0.92"/>
<rect x="71.1" y="259.9" width="18.8" height="7.4" fill="none" stroke="#3c3c3c" stroke-width="0.8"/>
<text x="93" y="267.1" font-size="10">5 mL <tspan font-weight="700" font-size="9.1" letter-spacing="0.75">裂解液</tspan></text>
<rect x="71.1" y="271.1" width="18.8" height="7.4" fill="#fff" stroke="none"/>
<path d="M71.1 271.85L71.98 271.1M71.1 276.35L77.21 271.1M73.84 278.5L82.44 271.1M79.07 278.5L87.67 271.1M84.3 278.5L89.9 273.69M89.53 278.5L89.9 278.19" fill="none" stroke="#555" stroke-width="0.85"/>
<rect x="71.1" y="271.1" width="18.8" height="7.4" fill="none" stroke="#3c3c3c" stroke-width="0.8"/>
<text x="93" y="278.3" font-size="10">10 mL <tspan font-weight="700" font-size="9.1" letter-spacing="0.75">裂解液</tspan></text>
<text x="90.5" y="416.9" text-anchor="middle" font-size="10"><tspan font-size="11">1</tspan> <tspan font-weight="700" font-size="9.1" letter-spacing="0.75" dy="0.35">次</tspan></text>
<text x="173.1" y="416.9" text-anchor="middle" font-size="10"><tspan font-size="11">2</tspan> <tspan font-weight="700" font-size="9.1" letter-spacing="0.75" dy="0.35">次</tspan></text>
<text x="252.6" y="416.9" text-anchor="middle" font-size="10"><tspan font-size="11">3</tspan> <tspan font-weight="700" font-size="9.1" letter-spacing="0.75" dy="0.35">次</tspan></text>
<text x="173.45" y="428.65" text-anchor="middle" font-size="9.1" font-weight="700" letter-spacing="0.75">破碎次数</text>
<path d="M347.05 220.9V405.2H594.7" fill="none" stroke="#111" stroke-width="1"/>
<path d="M347.05 398.11h3M347.05 391.02h4.9M347.05 383.93h3M347.05 376.85h4.9M347.05 369.76h3M347.05 362.67h4.9M347.05 355.58h3M347.05 348.49h4.9M347.05 341.4h3M347.05 334.32h4.9M347.05 327.23h3M347.05 320.14h4.9M347.05 313.05h3M347.05 305.96h4.9M347.05 298.87h3M347.05 291.78h4.9M347.05 284.7h3M347.05 277.61h4.9M347.05 270.52h3M347.05 263.43h4.9M347.05 256.34h3M347.05 249.25h4.9M347.05 242.17h3M347.05 235.08h4.9M347.05 227.99h3M347.05 220.9h4.9" fill="none" stroke="#111" stroke-width="0.9"/>
<text x="344.05" y="410.31" text-anchor="end" font-size="9.6" stroke-width="0.1">0</text>
<text x="344.05" y="396.13" text-anchor="end" font-size="9.6" stroke-width="0.1">0.1</text>
<text x="344.05" y="381.96" text-anchor="end" font-size="9.6" stroke-width="0.1">0.2</text>
<text x="344.05" y="367.78" text-anchor="end" font-size="9.6" stroke-width="0.1">0.3</text>
<text x="344.05" y="353.6" text-anchor="end" font-size="9.6" stroke-width="0.1">0.4</text>
<text x="344.05" y="339.43" text-anchor="end" font-size="9.6" stroke-width="0.1">0.5</text>
<text x="344.05" y="325.25" text-anchor="end" font-size="9.6" stroke-width="0.1">0.6</text>
<text x="344.05" y="311.07" text-anchor="end" font-size="9.6" stroke-width="0.1">0.7</text>
<text x="344.05" y="296.89" text-anchor="end" font-size="9.6" stroke-width="0.1">0.8</text>
<text x="344.05" y="282.72" text-anchor="end" font-size="9.6" stroke-width="0.1">0.9</text>
<text x="344.05" y="268.54" text-anchor="end" font-size="9.6" stroke-width="0.1">1.0</text>
<text x="344.05" y="254.36" text-anchor="end" font-size="9.6" stroke-width="0.1">1.1</text>
<text x="344.05" y="240.19" text-anchor="end" font-size="9.6" stroke-width="0.1">1.2</text>
<text x="344.05" y="226.01" text-anchor="end" font-size="9.6" stroke-width="0.1">1.3</text>
<rect x="378.2" y="334.32" width="10.3" height="70.88" fill="#fff" stroke="none"/>
<rect x="378.2" y="334.32" width="10.3" height="70.88" fill="url(#ck)" stroke="none"/>
<rect x="378.2" y="334.32" width="10.3" height="70.88" fill="none" stroke="#3c3c3c" stroke-width="0.8"/>
<rect x="388.5" y="330.35" width="10.3" height="74.85" fill="#fff" stroke="none"/>
<path d="M388.5 332.29L390.76 330.35M388.5 334.74L393.61 330.35M388.5 337.19L396.46 330.35M388.5 339.64L398.8 330.78M388.5 342.09L398.8 333.23M388.5 344.54L398.8 335.68M388.5 346.99L398.8 338.13M388.5 349.44L398.8 340.58M388.5 351.89L398.8 343.03M388.5 354.34L398.8 345.48M388.5 356.79L398.8 347.93M388.5 359.24L398.8 350.38M388.5 361.69L398.8 352.83M388.5 364.14L398.8 355.28M388.5 366.59L398.8 357.73M388.5 369.04L398.8 360.18M388.5 371.49L398.8 362.63M388.5 373.94L398.8 365.08M388.5 376.39L398.8 367.53M388.5 378.84L398.8 369.98M388.5 381.29L398.8 372.43M388.5 383.74L398.8 374.88M388.5 386.19L398.8 377.33M388.5 388.64L398.8 379.78M388.5 391.09L398.8 382.23M388.5 393.54L398.8 384.68M388.5 395.99L398.8 387.13M388.5 398.44L398.8 389.58M388.5 400.89L398.8 392.03M388.5 403.34L398.8 394.48M389.19 405.2L398.8 396.93M392.03 405.2L398.8 399.38M394.88 405.2L398.8 401.83M397.73 405.2L398.8 404.28" fill="none" stroke="#4c4c4c" stroke-width="0.92"/>
<rect x="388.5" y="330.35" width="10.3" height="74.85" fill="none" stroke="#3c3c3c" stroke-width="0.8"/>
<rect x="398.8" y="332.19" width="10.3" height="73.01" fill="#fff" stroke="none"/>
<path d="M398.8 336.53L403.85 332.19M398.8 341.03L409.08 332.19M398.8 345.53L409.1 336.67M398.8 350.03L409.1 341.17M398.8 354.53L409.1 345.67M398.8 359.03L409.1 350.17M398.8 363.53L409.1 354.67M398.8 368.03L409.1 359.17M398.8 372.53L409.1 363.67M398.8 377.03L409.1 368.17M398.8 381.53L409.1 372.67M398.8 386.03L409.1 377.17M398.8 390.53L409.1 381.67M398.8 395.03L409.1 386.17M398.8 399.53L409.1 390.67M398.8 404.03L409.1 395.17M402.67 405.2L409.1 399.67M407.91 405.2L409.1 404.17" fill="none" stroke="#555" stroke-width="0.85"/>
<rect x="398.8" y="332.19" width="10.3" height="73.01" fill="none" stroke="#3c3c3c" stroke-width="0.8"/>
<path d="M383.35 333.18V335.45M381.15 333.18h4.4M381.15 335.45h4.4" fill="none" stroke="#555" stroke-width="0.62"/>
<path d="M393.65 329.64V331.05M391.45 329.64h4.4M391.45 331.05h4.4" fill="none" stroke="#555" stroke-width="0.62"/>
<path d="M403.95 331.48V332.9M401.75 331.48h4.4M401.75 332.9h4.4" fill="none" stroke="#555" stroke-width="0.62"/>
<rect x="450.2" y="370.47" width="10.3" height="34.73" fill="#fff" stroke="none"/>
<rect x="450.2" y="370.47" width="10.3" height="34.73" fill="none" stroke="#3c3c3c" stroke-width="0.8"/>
<rect x="460.5" y="249.25" width="10.3" height="155.95" fill="#fff" stroke="none"/>
<rect x="460.5" y="249.25" width="10.3" height="155.95" fill="url(#ck)" stroke="none"/>
<rect x="460.5" y="249.25" width="10.3" height="155.95" fill="none" stroke="#3c3c3c" stroke-width="0.8"/>
<rect x="470.8" y="233.66" width="10.3" height="171.54" fill="#fff" stroke="none"/>
<path d="M470.8 234.56L471.85 233.66M470.8 237.01L474.7 233.66M470.8 239.46L477.55 233.66M470.8 241.91L480.4 233.66M470.8 244.36L481.1 235.5M470.8 246.81L481.1 237.95M470.8 249.26L481.1 240.4M470.8 251.71L481.1 242.85M470.8 254.16L481.1 245.3M470.8 256.61L481.1 247.75M470.8 259.06L481.1 250.2M470.8 261.51L481.1 252.65M470.8 263.96L481.1 255.1M470.8 266.41L481.1 257.55M470.8 268.86L481.1 260M470.8 271.31L481.1 262.45M470.8 273.76L481.1 264.9M470.8 276.21L481.1 267.35M470.8 278.66L481.1 269.8M470.8 281.11L481.1 272.25M470.8 283.56L481.1 274.7M470.8 286.01L481.1 277.15M470.8 288.46L481.1 279.6M470.8 290.91L481.1 282.05M470.8 293.36L481.1 284.5M470.8 295.81L481.1 286.95M470.8 298.26L481.1 289.4M470.8 300.71L481.1 291.85M470.8 303.16L481.1 294.3M470.8 305.61L481.1 296.75M470.8 308.06L481.1 299.2M470.8 310.51L481.1 301.65M470.8 312.96L481.1 304.1M470.8 315.41L481.1 306.55M470.8 317.86L481.1 309M470.8 320.31L481.1 311.45M470.8 322.76L481.1 313.9M470.8 325.21L481.1 316.35M470.8 327.66L481.1 318.8M470.8 330.11L481.1 321.25M470.8 332.56L481.1 323.7M470.8 335.01L481.1 326.15M470.8 337.46L481.1 328.6M470.8 339.91L481.1 331.05M470.8 342.36L481.1 333.5M470.8 344.81L481.1 335.95M470.8 347.26L481.1 338.4M470.8 349.71L481.1 340.85M470.8 352.16L481.1 343.3M470.8 354.61L481.1 345.75M470.8 357.06L481.1 348.2M470.8 359.51L481.1 350.65M470.8 361.96L481.1 353.1M470.8 364.41L481.1 355.55M470.8 366.86L481.1 358M470.8 369.31L481.1 360.45M470.8 371.76L481.1 362.9M470.8 374.21L481.1 365.35M470.8 376.66L481.1 367.8M470.8 379.11L481.1 370.25M470.8 381.56L481.1 372.7M470.8 384.01L481.1 375.15M470.8 386.46L481.1 377.6M470.8 388.91L481.1 380.05M470.8 391.36L481.1 382.5M470.8 393.81L481.1 384.95M470.8 396.26L481.1 387.4M470.8 398.71L481.1 389.85M470.8 401.16L481.1 392.3M470.8 403.61L481.1 394.75M471.8 405.2L481.1 397.2M474.65 405.2L481.1 399.65M477.5 405.2L481.1 402.1M480.35 405.2L481.1 404.55" fill="none" stroke="#4c4c4c" stroke-width="0.92"/>
<rect x="470.8" y="233.66" width="10.3" height="171.54" fill="none" stroke="#3c3c3c" stroke-width="0.8"/>
<rect x="481.1" y="256.48" width="10.3" height="148.72" fill="#fff" stroke="none"/>
<path d="M481.1 256.75L481.41 256.48M481.1 261.25L486.65 256.48M481.1 265.75L491.4 256.9M481.1 270.25L491.4 261.4M481.1 274.75L491.4 265.9M481.1 279.25L491.4 270.4M481.1 283.75L491.4 274.9M481.1 288.25L491.4 279.4M481.1 292.75L491.4 283.9M481.1 297.25L491.4 288.4M481.1 301.75L491.4 292.9M481.1 306.25L491.4 297.4M481.1 310.75L491.4 301.9M481.1 315.25L491.4 306.4M481.1 319.75L491.4 310.9M481.1 324.25L491.4 315.4M481.1 328.75L491.4 319.9M481.1 333.25L491.4 324.4M481.1 337.75L491.4 328.9M481.1 342.25L491.4 333.4M481.1 346.75L491.4 337.9M481.1 351.25L491.4 342.4M481.1 355.75L491.4 346.9M481.1 360.25L491.4 351.4M481.1 364.75L491.4 355.9M481.1 369.25L491.4 360.4M481.1 373.75L491.4 364.9M481.1 378.25L491.4 369.4M481.1 382.75L491.4 373.9M481.1 387.25L491.4 378.4M481.1 391.75L491.4 382.9M481.1 396.25L491.4 387.4M481.1 400.75L491.4 391.9M481.16 405.2L491.4 396.4M486.4 405.2L491.4 400.9" fill="none" stroke="#555" stroke-width="0.85"/>
<rect x="481.1" y="256.48" width="10.3" height="148.72" fill="none" stroke="#3c3c3c" stroke-width="0.8"/>
<path d="M455.35 370.04V370.89M453.15 370.04h4.4M453.15 370.89h4.4" fill="none" stroke="#555" stroke-width="0.62"/>
<path d="M465.65 239.61V258.89M463.45 239.61h4.4M463.45 258.89h4.4" fill="none" stroke="#555" stroke-width="0.62"/>
<path d="M475.95 229.69V237.63M473.75 229.69h4.4M473.75 237.63h4.4" fill="none" stroke="#555" stroke-width="0.62"/>
<path d="M486.25 247.98V264.99M484.05 247.98h4.4M484.05 264.99h4.4" fill="none" stroke="#555" stroke-width="0.62"/>
<rect x="532.4" y="358.42" width="10.3" height="46.78" fill="#fff" stroke="none"/>
<rect x="532.4" y="358.42" width="10.3" height="46.78" fill="none" stroke="#3c3c3c" stroke-width="0.8"/>
<rect x="542.7" y="254.36" width="10.3" height="150.84" fill="#fff" stroke="none"/>
<rect x="542.7" y="254.36" width="10.3" height="150.84" fill="url(#ck)" stroke="none"/>
<rect x="542.7" y="254.36" width="10.3" height="150.84" fill="none" stroke="#3c3c3c" stroke-width="0.8"/>
<rect x="553" y="236.21" width="10.3" height="168.99" fill="#fff" stroke="none"/>
<path d="M553 237.37L554.35 236.21M553 239.82L557.2 236.21M553 242.27L560.05 236.21M553 244.72L562.89 236.21M553 247.17L563.3 238.31M553 249.62L563.3 240.76M553 252.07L563.3 243.21M553 254.52L563.3 245.66M553 256.97L563.3 248.11M553 259.42L563.3 250.56M553 261.87L563.3 253.01M553 264.32L563.3 255.46M553 266.77L563.3 257.91M553 269.22L563.3 260.36M553 271.67L563.3 262.81M553 274.12L563.3 265.26M553 276.57L563.3 267.71M553 279.02L563.3 270.16M553 281.47L563.3 272.61M553 283.92L563.3 275.06M553 286.37L563.3 277.51M553 288.82L563.3 279.96M553 291.27L563.3 282.41M553 293.72L563.3 284.86M553 296.17L563.3 287.31M553 298.62L563.3 289.76M553 301.07L563.3 292.21M553 303.52L563.3 294.66M553 305.97L563.3 297.11M553 308.42L563.3 299.56M553 310.87L563.3 302.01M553 313.32L563.3 304.46M553 315.77L563.3 306.91M553 318.22L563.3 309.36M553 320.67L563.3 311.81M553 323.12L563.3 314.26M553 325.57L563.3 316.71M553 328.02L563.3 319.16M553 330.47L563.3 321.61M553 332.92L563.3 324.06M553 335.37L563.3 326.51M553 337.82L563.3 328.96M553 340.27L563.3 331.41M553 342.72L563.3 333.86M553 345.17L563.3 336.31M553 347.62L563.3 338.76M553 350.07L563.3 341.21M553 352.52L563.3 343.66M553 354.97L563.3 346.11M553 357.42L563.3 348.56M553 359.87L563.3 351.01M553 362.32L563.3 353.46M553 364.77L563.3 355.91M553 367.22L563.3 358.36M553 369.67L563.3 360.81M553 372.12L563.3 363.26M553 374.57L563.3 365.71M553 377.02L563.3 368.16M553 379.47L563.3 370.61M553 381.92L563.3 373.06M553 384.37L563.3 375.51M553 386.82L563.3 377.96M553 389.27L563.3 380.41M553 391.72L563.3 382.86M553 394.17L563.3 385.31M553 396.62L563.3 387.76M553 399.07L563.3 390.21M553 401.52L563.3 392.66M553 403.97L563.3 395.11M554.42 405.2L563.3 397.56M557.27 405.2L563.3 400.01M560.12 405.2L563.3 402.46M562.97 405.2L563.3 404.91" fill="none" stroke="#4c4c4c" stroke-width="0.92"/>
<rect x="553" y="236.21" width="10.3" height="168.99" fill="none" stroke="#3c3c3c" stroke-width="0.8"/>
<rect x="563.3" y="262.01" width="10.3" height="143.19" fill="#fff" stroke="none"/>
<path d="M563.3 262.56L563.94 262.01M563.3 267.06L569.17 262.01M563.3 271.56L573.6 262.7M563.3 276.06L573.6 267.2M563.3 280.56L573.6 271.7M563.3 285.06L573.6 276.2M563.3 289.56L573.6 280.7M563.3 294.06L573.6 285.2M563.3 298.56L573.6 289.7M563.3 303.06L573.6 294.2M563.3 307.56L573.6 298.7M563.3 312.06L573.6 303.2M563.3 316.56L573.6 307.7M563.3 321.06L573.6 312.2M563.3 325.56L573.6 316.7M563.3 330.06L573.6 321.2M563.3 334.56L573.6 325.7M563.3 339.06L573.6 330.2M563.3 343.56L573.6 334.7M563.3 348.06L573.6 339.2M563.3 352.56L573.6 343.7M563.3 357.06L573.6 348.2M563.3 361.56L573.6 352.7M563.3 366.06L573.6 357.2M563.3 370.56L573.6 361.7M563.3 375.06L573.6 366.2M563.3 379.56L573.6 370.7M563.3 384.06L573.6 375.2M563.3 388.56L573.6 379.7M563.3 393.06L573.6 384.2M563.3 397.56L573.6 388.7M563.3 402.06L573.6 393.2M564.88 405.2L573.6 397.7M570.12 405.2L573.6 402.2" fill="none" stroke="#555" stroke-width="0.85"/>
<rect x="563.3" y="262.01" width="10.3" height="143.19" fill="none" stroke="#3c3c3c" stroke-width="0.8"/>
<path d="M537.55 355.3V361.54M535.35 355.3h4.4M535.35 361.54h4.4" fill="none" stroke="#555" stroke-width="0.62"/>
<path d="M547.85 248.69V260.03M545.65 248.69h4.4M545.65 260.03h4.4" fill="none" stroke="#555" stroke-width="0.62"/>
<path d="M558.15 230.54V241.88M555.95 230.54h4.4M555.95 241.88h4.4" fill="none" stroke="#555" stroke-width="0.62"/>
<path d="M568.45 259.18V264.85M566.25 259.18h4.4M566.25 264.85h4.4" fill="none" stroke="#555" stroke-width="0.62"/>
<text transform="translate(327.9 304.6) rotate(-90)" text-anchor="middle" font-size="9.9"><tspan font-weight="700" font-size="9" letter-spacing="0.6">酶活</tspan> /(U·mL<tspan dy="-3.5" font-size="6.5">−1</tspan><tspan dy="3.5">)</tspan></text>
<text x="362.8" y="225.0" font-size="10">d. 160 MPa</text>
<rect x="375.6" y="239" width="19.2" height="7.4" fill="#fff" stroke="none"/>
<rect x="375.6" y="239" width="19.2" height="7.4" fill="none" stroke="#3c3c3c" stroke-width="0.8"/>
<text x="396.4" y="246.2" font-size="10">0 mL <tspan font-weight="700" font-size="9.1" letter-spacing="0.75">裂解液</tspan></text>
<rect x="375.6" y="250.5" width="19.2" height="7.4" fill="#fff" stroke="none"/>
<rect x="375.6" y="250.5" width="19.2" height="7.4" fill="url(#ck)" stroke="none"/>
<rect x="375.6" y="250.5" width="19.2" height="7.4" fill="none" stroke="#3c3c3c" stroke-width="0.8"/>
<text x="396.4" y="257.7" font-size="10">2 mL <tspan font-weight="700" font-size="9.1" letter-spacing="0.75">裂解液</tspan></text>
<rect x="375.6" y="262.1" width="19.2" height="7.4" fill="#fff" stroke="none"/>
<path d="M375.6 262.53L376.1 262.1M375.6 264.98L378.95 262.1M375.6 267.43L381.8 262.1M376.05 269.5L384.65 262.1M378.9 269.5L387.5 262.1M381.74 269.5L390.35 262.1M384.59 269.5L393.2 262.1M387.44 269.5L394.8 263.17M390.29 269.5L394.8 265.62M393.14 269.5L394.8 268.07" fill="none" stroke="#4c4c4c" stroke-width="0.92"/>
<rect x="375.6" y="262.1" width="19.2" height="7.4" fill="none" stroke="#3c3c3c" stroke-width="0.8"/>
<text x="396.4" y="269.3" font-size="10">5 mL <tspan font-weight="700" font-size="9.1" letter-spacing="0.75">裂解液</tspan></text>
<rect x="375.6" y="273.5" width="19.2" height="7.4" fill="#fff" stroke="none"/>
<path d="M375.6 275.48L377.91 273.5M375.6 279.98L383.14 273.5M379.77 280.9L388.37 273.5M385 280.9L393.6 273.5M390.23 280.9L394.8 276.97" fill="none" stroke="#555" stroke-width="0.85"/>
<rect x="375.6" y="273.5" width="19.2" height="7.4" fill="none" stroke="#3c3c3c" stroke-width="0.8"/>
<text x="396.4" y="280.7" font-size="10">10 mL <tspan font-weight="700" font-size="9.1" letter-spacing="0.75">裂解液</tspan></text>
<text x="389.8" y="417.2" text-anchor="middle" font-size="10"><tspan font-size="11">1</tspan> <tspan font-weight="700" font-size="9.1" letter-spacing="0.75" dy="0.35">次</tspan></text>
<text x="472.4" y="417.2" text-anchor="middle" font-size="10"><tspan font-size="11">2</tspan> <tspan font-weight="700" font-size="9.1" letter-spacing="0.75" dy="0.35">次</tspan></text>
<text x="551.5" y="417.2" text-anchor="middle" font-size="10"><tspan font-size="11">3</tspan> <tspan font-weight="700" font-size="9.1" letter-spacing="0.75" dy="0.35">次</tspan></text>
<text x="474.1" y="428.6" text-anchor="middle" font-size="9.1" font-weight="700" letter-spacing="0.75">破碎次数</text>
</svg></body></html>
